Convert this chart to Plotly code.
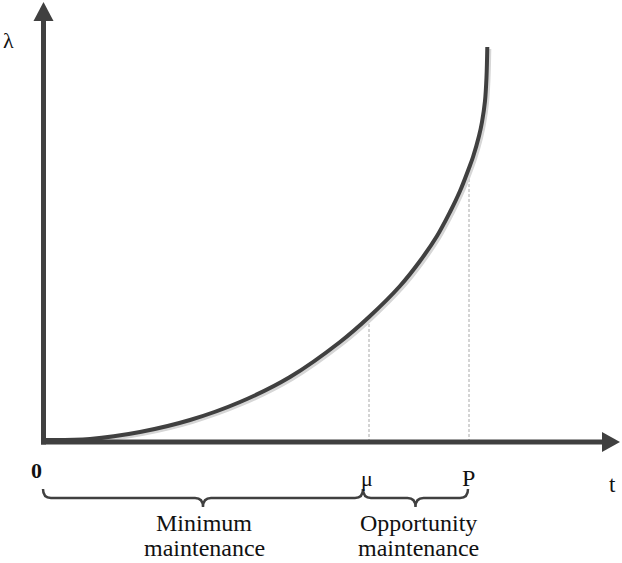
import numpy as np
import plotly.graph_objects as go

# ---- data (t, failure rate lambda) ----
t_vals = [0, 47, 97, 147, 197, 247, 297, 326, 357, 377, 394, 407, 417, 426, 430, 436, 439, 442, 443.5, 444.3]
lam_vals = [0, 1, 8, 20, 38, 63, 98, 123, 154, 179, 204, 228, 249, 272, 283, 304, 318, 339, 363, 393]
mu_t = 326
p_t = 426
point_labels = ["μ", "P"]
interval_labels = [["Minimum", "maintenance"], ["Opportunity", "maintenance"]]

DARK = "#404040"
FONT = "Liberation Serif, Times New Roman, serif"

t_arr = np.array(t_vals, dtype=float)
l_arr = np.array(lam_vals, dtype=float)

fig = go.Figure()

# subtle shadow of the curve
fig.add_trace(go.Scatter(x=t_arr + 2, y=l_arr - 2, mode="lines",
                         line=dict(color="#d6d6d6", width=4, shape="spline", smoothing=1.0),
                         hoverinfo="skip", showlegend=False))
# main curve
fig.add_trace(go.Scatter(x=t_arr, y=l_arr, mode="lines",
                         line=dict(color=DARK, width=4, shape="spline", smoothing=1.0),
                         hoverinfo="skip", showlegend=False))

shapes = []
# dashed guide lines from axis up to the curve
for tv in (mu_t, p_t):
    lv = float(np.interp(tv, t_arr, l_arr))
    shapes.append(dict(type="line", xref="x", yref="y", x0=tv, x1=tv, y0=-2, y1=lv,
                       line=dict(color="#a8a8a8", width=1, dash="3px,2px"), layer="below"))

# axes with arrowheads
ax_y = -2
shapes.append(dict(type="line", xref="x", yref="y", x0=0.5, x1=0.5, y0=ax_y - 2.5, y1=421,
                   line=dict(color=DARK, width=5)))
shapes.append(dict(type="path", xref="x", yref="y",
                   path="M -9.5,419 L 10.5,419 L 0.5,438 Z",
                   fillcolor=DARK, line=dict(color=DARK, width=0)))
shapes.append(dict(type="line", xref="x", yref="y", x0=-2, x1=561, y0=ax_y, y1=ax_y,
                   line=dict(color=DARK, width=5)))
shapes.append(dict(type="path", xref="x", yref="y",
                   path=f"M 559,{ax_y + 10} L 559,{ax_y - 10} L 577,{ax_y} Z",
                   fillcolor=DARK, line=dict(color=DARK, width=0)))


def brace(x0, x1, top=-49, bar=-58, tip=-67, r=8):
    mid = (x0 + x1) / 2
    return (f"M {x0},{top} Q {x0},{bar} {x0 + r},{bar} L {mid - r},{bar} "
            f"Q {mid},{bar} {mid},{tip} Q {mid},{bar} {mid + r},{bar} "
            f"L {x1 - r},{bar} Q {x1},{bar} {x1},{top}")


b_split = mu_t - 6
spans = ((0, b_split), (b_split, p_t - 1))
for (a, b) in spans:
    shapes.append(dict(type="path", xref="x", yref="y", path=brace(a, b),
                       line=dict(color=DARK, width=2.5)))

annotations = [
    dict(x=-35, y=400, text="λ", font=dict(size=22)),
    dict(x=-7, y=-30, text="<b>0</b>", font=dict(size=22)),
    dict(x=mu_t - 2, y=-38, text=point_labels[0], font=dict(size=22)),
    dict(x=p_t - 1, y=-38, text=point_labels[1], font=dict(size=24)),
    dict(x=569, y=-44, text="t", font=dict(size=23)),
]
for i, ((a, b), lines) in enumerate(zip(spans, interval_labels)):
    cx = (a + b) / 2 + 1 + 2 * i
    annotations.append(dict(x=cx, y=-83, text=lines[0], font=dict(size=24)))
    annotations.append(dict(x=cx, y=-108, text=lines[1], font=dict(size=24)))

for a in annotations:
    a.update(xref="x", yref="y", showarrow=False, xanchor="center", yanchor="middle",
             borderpad=0)
    a["font"].update(family=FONT, color="#111111")

fig.update_layout(
    width=622, height=563,
    margin=dict(l=0, r=0, t=0, b=0),
    paper_bgcolor="white", plot_bgcolor="white",
    xaxis=dict(range=[-43, 579], visible=False, fixedrange=True),
    yaxis=dict(range=[-123, 440], visible=False, fixedrange=True),
    shapes=shapes, annotations=annotations, showlegend=False,
)

fig.write_html("out.html",
               config={"displayModeBar": False},
               post_script="document.body.style.margin='0';document.body.style.overflow='hidden';")
